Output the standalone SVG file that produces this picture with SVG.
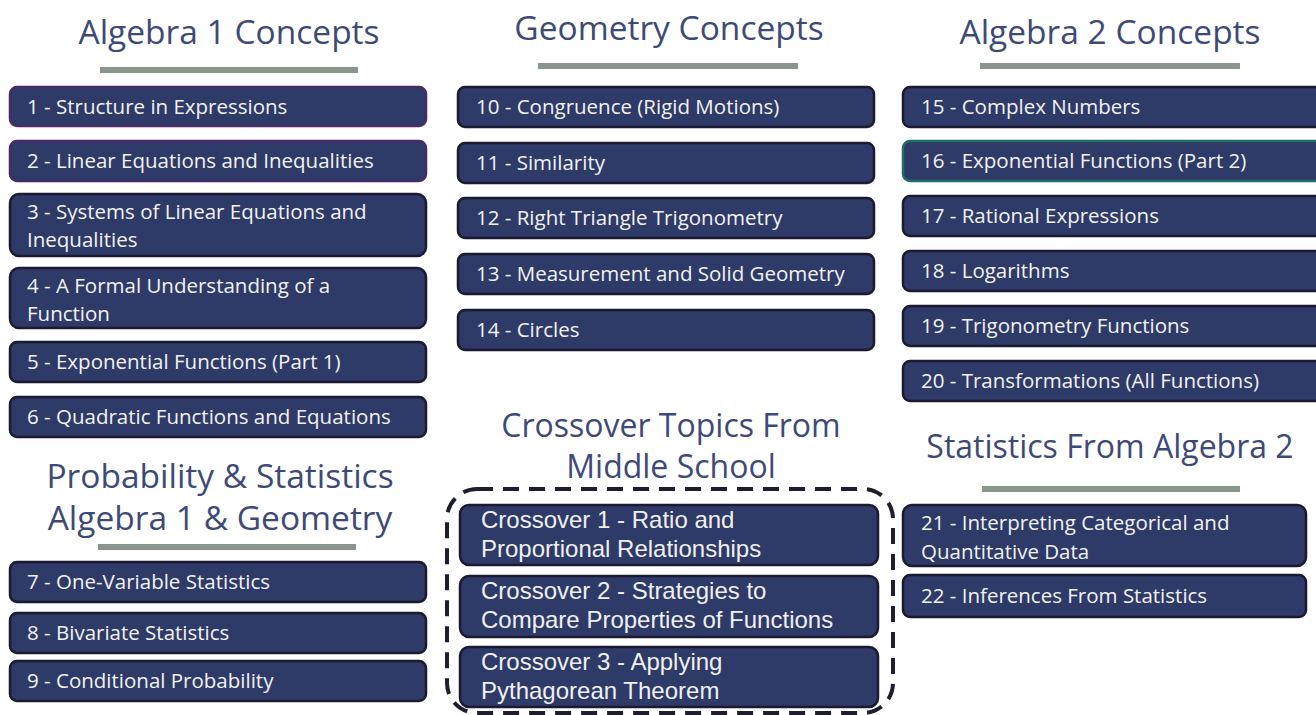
<svg xmlns="http://www.w3.org/2000/svg" width="1316" height="715" viewBox="0 0 1316 715">
<style>
.bg{fill:#ffffff}
.title{font-family:"Open Sans","Noto Sans",sans-serif;font-size:33.5px;fill:#3d4a78;text-anchor:middle}
.sm{font-size:32px}
.bar{fill:#8a968c}
.box{fill:#2e3a68;stroke:#1c1a30;stroke-width:2.5}
.boxp{stroke:#4a2a66}
.boxt{stroke:#1f6e68}
.lbl{font-family:"Open Sans","Noto Sans",sans-serif;font-size:20.5px;fill:#f2f2f2}
.cl{font-family:"Liberation Sans",Arial,sans-serif;font-size:24px;fill:#f0f0f0}
.dash{fill:none;stroke:#1e1e30;stroke-width:4;stroke-dasharray:16 10}
</style>
<rect class="bg" x="0" y="0" width="1316" height="715"/>

<g id="headers">
<text class="title" x="229" y="44">Algebra 1 Concepts</text>
<rect class="bar" x="100" y="67" width="258" height="6"/>
<text class="title" x="669" y="40">Geometry Concepts</text>
<rect class="bar" x="538" y="63" width="260" height="6"/>
<text class="title" x="1110" y="44">Algebra 2 Concepts</text>
<rect class="bar" x="980" y="63" width="260" height="6"/>
<text class="title" x="220" y="488">Probability &amp; Statistics</text>
<text class="title" x="220" y="530">Algebra 1 &amp; Geometry</text>
<rect class="bar" x="98" y="544" width="258" height="6"/>
<text class="title sm" x="671" y="437">Crossover Topics From</text>
<text class="title sm" x="671" y="478">Middle School</text>
<text class="title sm" x="1110" y="458">Statistics From Algebra 2</text>
<rect class="bar" x="982" y="486" width="258" height="6"/>
</g>

<g id="n1"><rect class="box boxp" x="10" y="87" width="416" height="39" rx="7"/><text class="lbl" x="27" y="114">1 - Structure in Expressions</text></g>
<g id="n2"><rect class="box boxp" x="10" y="141" width="416" height="40" rx="7"/><text class="lbl" x="27" y="168">2 - Linear Equations and Inequalities</text></g>
<g id="n3"><rect class="box" x="10" y="194" width="416" height="62" rx="9"/><text class="lbl" x="27" y="219">3 - Systems of Linear Equations and</text><text class="lbl" x="27" y="247">Inequalities</text></g>
<g id="n4"><rect class="box" x="10" y="268" width="416" height="60" rx="9"/><text class="lbl" x="27" y="293">4 - A Formal Understanding of a</text><text class="lbl" x="27" y="321">Function</text></g>
<g id="n5"><rect class="box" x="10" y="342" width="416" height="40" rx="7"/><text class="lbl" x="27" y="369">5 - Exponential Functions (Part 1)</text></g>
<g id="n6"><rect class="box" x="10" y="397" width="416" height="40" rx="7"/><text class="lbl" x="27" y="424">6 - Quadratic Functions and Equations</text></g>

<g id="n7"><rect class="box" x="10" y="562" width="416" height="40" rx="7"/><text class="lbl" x="27" y="589">7 - One-Variable Statistics</text></g>
<g id="n8"><rect class="box" x="10" y="613" width="416" height="40" rx="7"/><text class="lbl" x="27" y="640">8 - Bivariate Statistics</text></g>
<g id="n9"><rect class="box" x="10" y="661" width="416" height="40" rx="7"/><text class="lbl" x="27" y="688">9 - Conditional Probability</text></g>

<g id="n10"><rect class="box" x="458" y="87" width="416" height="40" rx="7"/><text class="lbl" x="476" y="114">10 - Congruence (Rigid Motions)</text></g>
<g id="n11"><rect class="box" x="458" y="143" width="416" height="40" rx="7"/><text class="lbl" x="476" y="170">11 - Similarity</text></g>
<g id="n12"><rect class="box" x="458" y="198" width="416" height="40" rx="7"/><text class="lbl" x="476" y="225">12 - Right Triangle Trigonometry</text></g>
<g id="n13"><rect class="box" x="458" y="254" width="416" height="40" rx="7"/><text class="lbl" x="476" y="281">13 - Measurement and Solid Geometry</text></g>
<g id="n14"><rect class="box" x="458" y="310" width="416" height="40" rx="7"/><text class="lbl" x="476" y="337">14 - Circles</text></g>

<g id="crossover-group"><rect class="dash" x="447" y="489" width="446" height="224" rx="30"/></g>
<g id="c1"><rect class="box" x="460" y="505" width="418" height="60" rx="9"/><text class="cl" x="481" y="528">Crossover 1 - Ratio and</text><text class="cl" x="481" y="557">Proportional Relationships</text></g>
<g id="c2"><rect class="box" x="460" y="576" width="418" height="61" rx="9"/><text class="cl" x="481" y="599">Crossover 2 - Strategies to</text><text class="cl" x="481" y="628">Compare Properties of Functions</text></g>
<g id="c3"><rect class="box" x="460" y="647" width="418" height="60" rx="9"/><text class="cl" x="481" y="670">Crossover 3 - Applying</text><text class="cl" x="481" y="699">Pythagorean Theorem</text></g>

<g id="n15"><rect class="box" x="903" y="87" width="430" height="40" rx="7"/><text class="lbl" x="921" y="114">15 - Complex Numbers</text></g>
<g id="n16"><rect class="box boxt" x="903" y="141" width="430" height="40" rx="7"/><text class="lbl" x="921" y="168">16 - Exponential Functions (Part 2)</text></g>
<g id="n17"><rect class="box" x="903" y="196" width="430" height="40" rx="7"/><text class="lbl" x="921" y="223">17 - Rational Expressions</text></g>
<g id="n18"><rect class="box" x="903" y="251" width="430" height="40" rx="7"/><text class="lbl" x="921" y="278">18 - Logarithms</text></g>
<g id="n19"><rect class="box" x="903" y="306" width="430" height="40" rx="7"/><text class="lbl" x="921" y="333">19 - Trigonometry Functions</text></g>
<g id="n20"><rect class="box" x="903" y="361" width="430" height="40" rx="7"/><text class="lbl" x="921" y="388">20 - Transformations (All Functions)</text></g>

<g id="n21"><rect class="box" x="903" y="505" width="403" height="61" rx="9"/><text class="lbl" x="921" y="530">21 - Interpreting Categorical and</text><text class="lbl" x="921" y="559">Quantitative Data</text></g>
<g id="n22"><rect class="box" x="903" y="575" width="403" height="42" rx="7"/><text class="lbl" x="921" y="603">22 - Inferences From Statistics</text></g>

<g id="connectors"></g>
</svg>
